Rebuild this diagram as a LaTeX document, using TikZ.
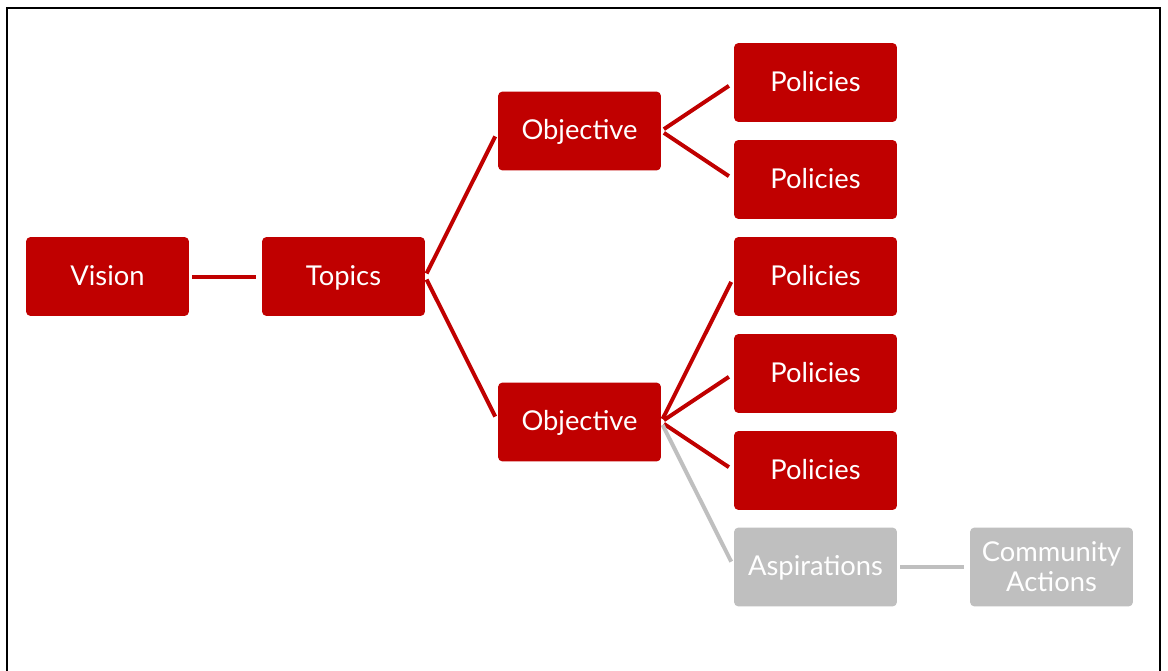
\documentclass[tikz,border=0pt]{standalone}
\usepackage{fontspec}
\setmainfont{Lato}
\definecolor{planred}{RGB}{192,0,0}
\definecolor{plangray}{RGB}{191,191,191}
\tikzset{
    box/.style={fill=planred, text=white, rounded corners=3pt, minimum width=122pt,
        minimum height=59pt, inner sep=2pt, align=center,
        font=\fontsize{20.5}{22.5}\selectfont},
    onebox/.style={box, text height=13pt, text depth=0pt},
    graybox/.style={box, fill=plangray},
    link/.style={draw=planred, line width=3pt, shorten <=2.5pt, shorten >=4.5pt},
    graylink/.style={link, draw=plangray}
}
\begin{document}
\begin{tikzpicture}[x=0.75pt,y=-0.75pt]
\useasboundingbox (0,0) rectangle (1168,671);
% frame
\draw[line width=1.5pt] (7,675)--(7,7.5)--(1160,7.5)--(1160,675);

\node[onebox] (vision) at (107.5,276.5){Vision};
\node[onebox] (topics) at (343.5,276.5){Topics};
\node[onebox] (obj1) at (579.5,131){Objective};
\node[onebox] (obj2) at (579.5,422){Objective};
\foreach \i/\y in {1/82.5,2/179.5,3/276.5,4/373.5,5/470.5}
{
    \node[onebox] (pol\i) at (815.5,\y){Policies};
}
\node[onebox, fill=plangray] (asp) at (815.5,567){Aspirations};
\node[graybox] (comm) at (1051.5,567){Community\\Actions};

\draw[link] (vision.east)--(topics.west);
\draw[link] (topics.east)--(obj1.west);
\draw[link] (topics.east)--(obj2.west);
\foreach \i in {1,2}
{
    \draw[link] (obj1.east)--(pol\i.west);
}
\foreach \i in {3,4,5}
{
    \draw[link] (obj2.east)--(pol\i.west);
}
\draw[graylink] (obj2.east)--(asp.west);
\draw[graylink] (asp.east)--(comm.west);
\end{tikzpicture}
\end{document}
